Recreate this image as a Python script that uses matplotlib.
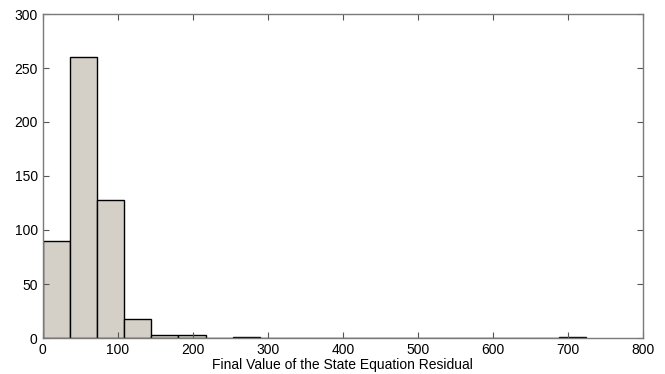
import numpy as np
import matplotlib
matplotlib.use('Agg')
import matplotlib.pyplot as plt

# histogram counts (20 equal bins)
counts = [90, 260, 128, 18, 3, 3, 0, 1, 0, 0, 0, 0, 0, 0, 0, 0, 0, 0, 0, 1]
range_lo = 0.0
range_hi = 724.0
x_ticks = [0, 100, 200, 300, 400, 500, 600, 700, 800]
y_ticks = [0, 50, 100, 150, 200, 250, 300]

plt.rcParams['font.family'] = ['Liberation Sans', 'DejaVu Sans']

edges = np.linspace(range_lo, range_hi, len(counts) + 1)
width = edges[1] - edges[0]

fig = plt.figure(figsize=(6.65, 3.74), dpi=100)
ax = fig.add_axes([42.5 / 665, 1 - 338 / 374, 600.5 / 665, 324 / 374])

ax.bar(edges[:-1], counts, width=width, align='edge',
       color='#d4d0c8', edgecolor='black', linewidth=1.0)

ax.set_xlim(0, 800)
ax.set_ylim(0, 300)
ax.set_xticks(x_ticks)
ax.set_yticks(y_ticks)
ax.tick_params(direction='in', top=True, right=True, length=4,
               labelsize=10, width=0.8, colors='#555555', labelcolor='black')
for s in ax.spines.values():
    s.set_linewidth(1.0)
    s.set_color('#7a7a7a')
ax.set_xlabel('Final Value of the State Equation Residual', fontsize=10, labelpad=1)

fig.savefig('out.png', dpi=100)
